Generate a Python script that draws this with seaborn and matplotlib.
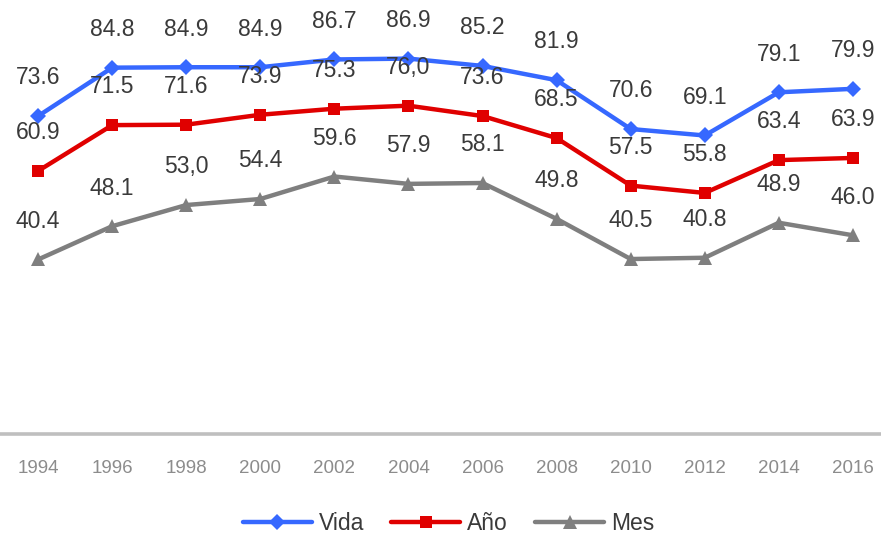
import matplotlib
matplotlib.use("Agg")
import matplotlib.pyplot as plt
import seaborn as sns
import pandas as pd

sns.set_style("white")

years = [1994, 1996, 1998, 2000, 2002, 2004, 2006, 2008, 2010, 2012, 2014, 2016]
vida = [73.6, 84.8, 84.9, 84.9, 86.7, 86.9, 85.2, 81.9, 70.6, 69.1, 79.1, 79.9]
anio = [60.9, 71.5, 71.6, 73.9, 75.3, 76.0, 73.6, 68.5, 57.5, 55.8, 63.4, 63.9]
mes = [40.4, 48.1, 53.0, 54.4, 59.6, 57.9, 58.1, 49.8, 40.5, 40.8, 48.9, 46.0]

# labels as printed in the source (mixed decimal separators)
vida_lbl = ["73.6", "84.8", "84.9", "84.9", "86.7", "86.9", "85.2", "81.9", "70.6", "69.1", "79.1", "79.9"]
anio_lbl = ["60.9", "71.5", "71.6", "73.9", "75.3", "76,0", "73.6", "68.5", "57.5", "55.8", "63.4", "63.9"]
mes_lbl = ["40.4", "48.1", "53,0", "54.4", "59.6", "57.9", "58.1", "49.8", "40.5", "40.8", "48.9", "46.0"]

series = [
    ("Vida", vida, vida_lbl, "#3668FF", "D", 8),
    ("Año", anio, anio_lbl, "#E00000", "s", 8),
    ("Mes", mes, mes_lbl, "#7F7F7F", "^", 9.5),
]

LABEL_FONT = ["Liberation Sans", "DejaVu Sans"]
NARROW_FONT = ["Liberation Sans Narrow", "Liberation Sans", "DejaVu Sans"]

fig = plt.figure(figsize=(8.81, 5.35), dpi=100)
ax = fig.add_axes([0, 101 / 535, 1, 432 / 535])

for name, vals, lbls, color, marker, ms in series:
    df = pd.DataFrame({"year": years, "value": vals})
    sns.lineplot(data=df, x="year", y="value", ax=ax, color=color, linewidth=3.2,
                 marker=marker, markersize=ms, markeredgewidth=0, label=name)
    for x, y, t in zip(years, vals, lbls):
        ax.annotate(t, (x, y), xytext=(0, 27.5), textcoords="offset points",
                    ha="center", va="center", fontsize=16.5, color="#3A3A3A",
                    family=LABEL_FONT, annotation_clip=False)

ax.set_xlim(1992.97, 2016.76)
ax.set_ylim(0, 100)
ax.set_xticks(years)
ax.set_xticklabels([str(y) for y in years], family=NARROW_FONT, fontsize=13.5, color="#8C8C8C")
ax.tick_params(axis="x", length=0, pad=19)
ax.set_yticks([])
ax.set_xlabel("")
ax.set_ylabel("")
for side in ["top", "left", "right"]:
    ax.spines[side].set_visible(False)
ax.spines["bottom"].set_color("#BFBFBF")
ax.spines["bottom"].set_linewidth(2.6)

ax.legend(loc="center", bbox_to_anchor=(448.5 / 881, 11 / 535), bbox_transform=fig.transFigure,
          ncol=3, frameon=False, handlelength=3.0, handletextpad=0.3, columnspacing=1.2,
          borderpad=0.1, prop={"family": NARROW_FONT, "size": 16.5}, labelcolor="#3A3A3A")

fig.savefig("out.png", dpi=100)
